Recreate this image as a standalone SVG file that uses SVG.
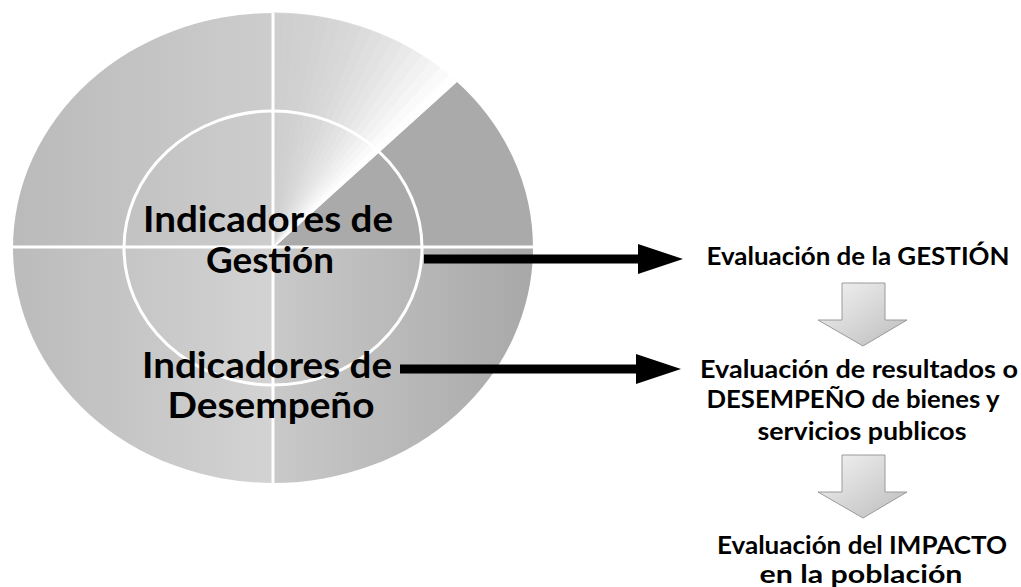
<svg xmlns="http://www.w3.org/2000/svg" width="1021" height="587" viewBox="0 0 1021 587">
<style>
.lbl{font-family:Lato,"Open Sans","Liberation Sans",sans-serif;font-weight:700;fill:#000;text-anchor:middle}
.big{font-size:36px}
.sm{font-size:24px}
.wl{stroke:#fff;stroke-width:3;fill:none}
.conn{stroke:#000;stroke-width:9;fill:none;marker-end:url(#ah)}
.down{fill:url(#gArrow);stroke:#9a9a9a;stroke-width:1}
</style>
<defs>
<linearGradient id="gUL" x1="13" y1="0" x2="273" y2="0" gradientUnits="userSpaceOnUse"><stop offset="0" stop-color="#bababa"/><stop offset="1" stop-color="#cdcdcd"/></linearGradient>
<linearGradient id="gLL" x1="13" y1="0" x2="273" y2="0" gradientUnits="userSpaceOnUse"><stop offset="0" stop-color="#bbbbbb"/><stop offset="1" stop-color="#d3d3d3"/></linearGradient>
<linearGradient id="gLR" x1="273" y1="0" x2="533" y2="0" gradientUnits="userSpaceOnUse"><stop offset="0" stop-color="#c9c9c9"/><stop offset="1" stop-color="#a8a8a8"/></linearGradient>
<linearGradient id="gArrow" x1="0" y1="0" x2="1" y2="1"><stop offset="0" stop-color="#f4f4f4"/><stop offset="1" stop-color="#bcbcbc"/></linearGradient>
<marker id="ah" markerUnits="userSpaceOnUse" markerWidth="46" markerHeight="31" refX="0" refY="15" orient="auto"><path d="M0,0 L45,15 L0,30 Z" fill="#000"/></marker>
</defs>
<g id="circle">
<path d="M273,248 L273,13 A260,235 0 0 0 13,248 Z" fill="url(#gUL)"/>
<path d="M273,248 L13,248 A260,235 0 0 0 273,483 Z" fill="url(#gLL)"/>
<path d="M273,248 L273,483 A260,235 0 0 0 533,248 Z" fill="url(#gLR)"/>
<path d="M273,248 L533,248 A260,235 0 0 0 456.8,81.8 Z" fill="#aaaaaa"/>
<g id="lightWedge" stroke-width="0.8">
<path d="M273,248 L284.34,13.22 A260,235 0 0 0 273,13 Z" fill="#cecece" stroke="#cecece"/>
<path d="M273,248 L295.66,13.9 A260,235 0 0 0 284.34,13.22 Z" fill="#cfcfcf" stroke="#cfcfcf"/>
<path d="M273,248 L306.94,15.01 A260,235 0 0 0 295.66,13.9 Z" fill="#d0d0d0" stroke="#d0d0d0"/>
<path d="M273,248 L318.15,16.57 A260,235 0 0 0 306.94,15.01 Z" fill="#d1d1d1" stroke="#d1d1d1"/>
<path d="M273,248 L329.27,18.57 A260,235 0 0 0 318.15,16.57 Z" fill="#d3d3d3" stroke="#d3d3d3"/>
<path d="M273,248 L340.29,21.01 A260,235 0 0 0 329.27,18.57 Z" fill="#d5d5d5" stroke="#d5d5d5"/>
<path d="M273,248 L351.18,23.88 A260,235 0 0 0 340.29,21.01 Z" fill="#d7d7d7" stroke="#d7d7d7"/>
<path d="M273,248 L361.93,27.17 A260,235 0 0 0 351.18,23.88 Z" fill="#d9d9d9" stroke="#d9d9d9"/>
<path d="M273,248 L372.5,30.89 A260,235 0 0 0 361.93,27.17 Z" fill="#dcdcdc" stroke="#dcdcdc"/>
<path d="M273,248 L382.88,35.02 A260,235 0 0 0 372.5,30.89 Z" fill="#dfdfdf" stroke="#dfdfdf"/>
<path d="M273,248 L393.06,39.55 A260,235 0 0 0 382.88,35.02 Z" fill="#e2e2e2" stroke="#e2e2e2"/>
<path d="M273,248 L403,44.48 A260,235 0 0 0 393.06,39.55 Z" fill="#e5e5e5" stroke="#e5e5e5"/>
<path d="M273,248 L412.7,49.8 A260,235 0 0 0 403,44.48 Z" fill="#e9e9e9" stroke="#e9e9e9"/>
<path d="M273,248 L422.13,55.5 A260,235 0 0 0 412.7,49.8 Z" fill="#ededed" stroke="#ededed"/>
<path d="M273,248 L431.28,61.56 A260,235 0 0 0 422.13,55.5 Z" fill="#f1f1f1" stroke="#f1f1f1"/>
<path d="M273,248 L440.13,68.02 A260,235 0 0 0 431.28,61.56 Z" fill="#f5f5f5" stroke="#f5f5f5"/>
<path d="M273,248 L448.65,74.74 A260,235 0 0 0 440.13,68.02 Z" fill="#fafafa" stroke="#fafafa"/>
<path d="M273,248 L456.85,81.83 A260,235 0 0 0 448.65,74.74 Z" fill="#fefefe" stroke="#fefefe"/>
</g>
<ellipse class="wl" cx="273" cy="248" rx="149" ry="137"/>
<line class="wl" x1="273" y1="13" x2="273" y2="483"/>
<line class="wl" x1="13" y1="247" x2="533" y2="247"/>
</g>
<g id="node-gestion">
<text class="lbl big" x="268" y="232" textLength="250" lengthAdjust="spacingAndGlyphs">Indicadores de</text>
<text class="lbl big" x="270" y="273" textLength="128" lengthAdjust="spacingAndGlyphs">Gestión</text>
</g>
<g id="node-desempeno">
<text class="lbl big" x="267" y="378" textLength="250" lengthAdjust="spacingAndGlyphs">Indicadores de</text>
<text class="lbl big" x="271" y="418" textLength="207" lengthAdjust="spacingAndGlyphs">Desempeño</text>
</g>
<g id="node-eval-gestion">
<text class="lbl sm" x="858" y="265" textLength="303" lengthAdjust="spacingAndGlyphs">Evaluación de la GESTIÓN</text>
</g>
<g id="node-eval-desempeno">
<text class="lbl sm" x="859" y="378" textLength="318" lengthAdjust="spacingAndGlyphs">Evaluación de resultados o</text>
<text class="lbl sm" x="853" y="408" textLength="293" lengthAdjust="spacingAndGlyphs">DESEMPEÑO de bienes y</text>
<text class="lbl sm" x="862" y="440" textLength="209" lengthAdjust="spacingAndGlyphs">servicios publicos</text>
</g>
<g id="node-eval-impacto">
<text class="lbl sm" x="862" y="554" textLength="290" lengthAdjust="spacingAndGlyphs">Evaluación del IMPACTO</text>
<text class="lbl sm" x="861" y="583" textLength="203" lengthAdjust="spacingAndGlyphs">en la población</text>
</g>
<g id="connectors">
<line class="conn" x1="424" y1="259" x2="638" y2="259"/>
<line class="conn" x1="400" y1="369" x2="636" y2="369"/>
<path class="down" d="M842,283 H885 V320 H907 L863,346 L818,320 H842 Z"/>
<path class="down" d="M842,455 H885 V492 H907 L863,518 L818,492 H842 Z"/>
</g>
</svg>
